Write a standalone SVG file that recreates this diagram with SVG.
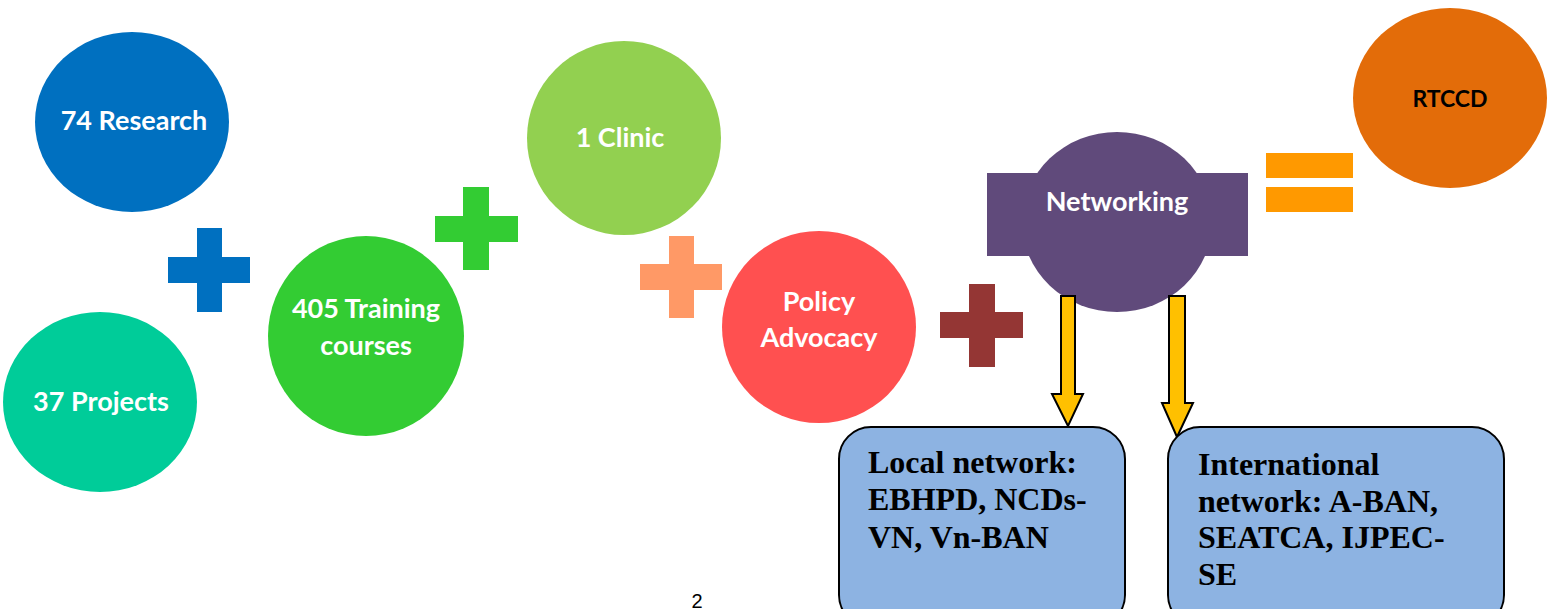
<svg xmlns="http://www.w3.org/2000/svg" width="1547" height="609" viewBox="0 0 1547 609">
<style>
.t{font-family:Lato,"Open Sans",sans-serif;font-weight:bold;fill:#fff;text-anchor:middle;font-size:27px}
.b{font-family:"Liberation Serif","Times New Roman",serif;font-weight:bold;font-size:32px;fill:#000}
.box{fill:#8DB3E2;stroke:#000;stroke-width:2}
.arr{fill:#FFC000;stroke:#000;stroke-width:2;stroke-linejoin:miter}
</style>
<rect width="1547" height="609" fill="#fff"/>
<g id="research"><ellipse cx="132" cy="122" rx="97" ry="90" fill="#0070C0"/><text class="t" x="134" y="130">74 Research</text></g>
<g id="projects"><ellipse cx="100" cy="402" rx="97" ry="90" fill="#00CC99"/><text class="t" x="101" y="411">37 Projects</text></g>
<g id="plus1" fill="#0070C0"><rect x="168" y="257" width="82" height="26"/><rect x="197" y="228" width="25" height="84"/></g>
<g id="training"><ellipse cx="366" cy="336" rx="98" ry="100" fill="#33CC33"/><text class="t" x="366" y="318">405 Training</text><text class="t" x="366" y="355">courses</text></g>
<g id="plus2" fill="#33CC33"><rect x="435" y="216" width="83" height="26"/><rect x="463" y="187" width="26" height="83"/></g>
<g id="clinic"><ellipse cx="624" cy="138" rx="97" ry="97" fill="#92D050"/><text class="t" x="620" y="147">1 Clinic</text></g>
<g id="plus3" fill="#FF9966"><rect x="640" y="264" width="82" height="26"/><rect x="669" y="236" width="25" height="82"/></g>
<g id="policy"><ellipse cx="819" cy="327" rx="97" ry="96" fill="#FF5050"/><text class="t" x="819" y="311">Policy</text><text class="t" x="819" y="347">Advocacy</text></g>
<g id="plus4" fill="#943634"><rect x="940" y="312" width="83" height="26"/><rect x="969" y="284" width="26" height="83"/></g>
<g id="networking" fill="#604A7B"><ellipse cx="1117" cy="222" rx="95" ry="90"/><rect x="987" y="173" width="261" height="83"/><text class="t" x="1117" y="211">Networking</text></g>
<g id="equals" fill="#FF9900"><rect x="1266" y="153" width="87" height="25"/><rect x="1266" y="187" width="87" height="25"/></g>
<g id="rtccd"><ellipse cx="1450" cy="98" rx="97" ry="90" fill="#E36C09"/><text class="t" x="1450" y="107" style="fill:#000;font-size:23px">RTCCD</text></g>
<g id="connectors">
<polygon class="arr" points="1061,296 1075,296 1075,394 1083,394 1068,426 1052,394 1061,394"/>
<polygon class="arr" points="1169,296 1185,296 1185,403 1193,403 1177,437 1162,403 1169,403"/>
</g>
<g id="local"><rect class="box" x="839" y="427" width="286" height="200" rx="32"/>
<text class="b" x="868" y="473">Local network:</text><text class="b" x="868" y="510">EBHPD, NCDs-</text><text class="b" x="868" y="548">VN, Vn-BAN</text></g>
<g id="international"><rect class="box" x="1168" y="427" width="336" height="200" rx="32"/>
<text class="b" x="1198" y="475">International</text><text class="b" x="1198" y="512">network: A-BAN,</text><text class="b" x="1198" y="548">SEATCA, IJPEC-</text><text class="b" x="1198" y="585">SE</text></g>
<text x="697" y="608" font-family="Liberation Sans,Arial,sans-serif" font-size="20" text-anchor="middle" fill="#000">2</text>
</svg>
